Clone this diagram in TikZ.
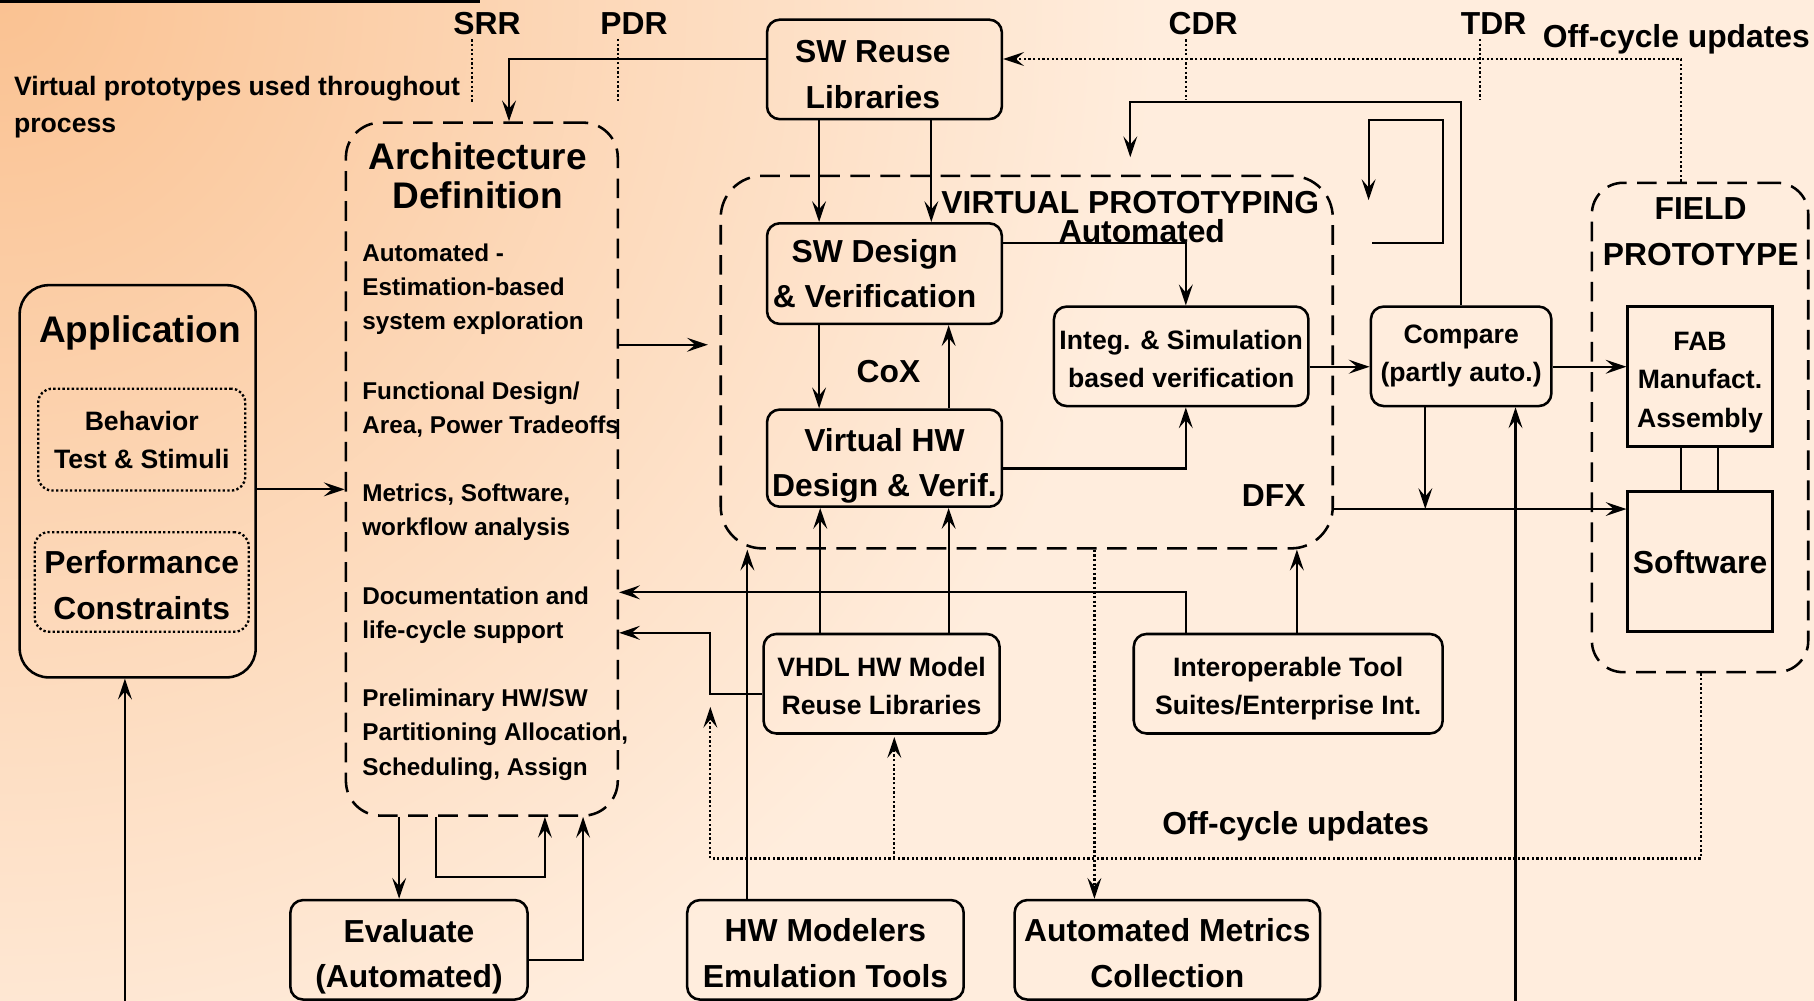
\documentclass[tikz,border=0pt]{standalone}
\usepackage{fontspec}
\setmainfont{Liberation Sans}
\usetikzlibrary{arrows.meta}
\definecolor{bgdeep}{RGB}{250,194,146}
\definecolor{bgpale}{RGB}{255,237,221}
\newcommand\szT{\fontsize{32}{34}\selectfont\bfseries}
\newcommand\szL{\fontsize{27.5}{39.5}\selectfont\bfseries}
\newcommand\szM{\fontsize{23}{33}\selectfont\bfseries}
\newcommand\szS{\fontsize{21}{29.6}\selectfont\bfseries}
% invisible strut that lowers the text block inside a box
\newcommand\boxtop[1]{\rule{0pt}{#1pt}}
\begin{document}
\begin{tikzpicture}[x=1pt,y=-1pt,
  box/.style={draw, line width=2.2pt, rounded corners=11pt, align=center,
    inner sep=0pt, font=\szL, minimum height=86},
  sqbox/.style={draw, line width=2.2pt, align=center, inner sep=0pt, font=\szL},
  dashbox/.style={draw, line width=2.2pt, dash pattern=on 17pt off 9pt,
    inner sep=0pt},
  dotbox/.style={draw, line width=2pt, dash pattern=on 2pt off 2pt,
    rounded corners=12pt, align=center, inner sep=0pt},
  lbl/.style={inner sep=0pt, font=\szL, align=center},
  bodytxt/.style={inner sep=0pt, font=\szS, align=left, anchor=west},
  conn/.style={line width=1.9pt},
  tip/.style={-{Stealth[length=18pt,width=12pt,inset=7pt]}},
  arr/.style={conn, tip},
  dotconn/.style={line width=1.9pt, dash pattern=on 2pt off 2pt},
  dotarr/.style={dotconn, tip}]

% background glow from the upper left corner
\useasboundingbox (0,0) rectangle (1568,865);
\begin{scope}
  \clip (0,0) rectangle (1568,865);
  \fill[bgpale] (0,0) rectangle (1568,865);
  \shade[inner color=bgdeep, outer color=bgpale] (0,0) circle (1000);
\end{scope}
\draw[line width=2.5pt] (0,1) -- (415,1);

% milestones
\node[lbl] (srr) at (421,20) {SRR};
\node[lbl] (pdr) at (548,20) {PDR};
\node[lbl] (cdr) at (1040,20) {CDR};
\node[lbl] (tdr) at (1291,20) {TDR};
\node[lbl] (offtop) at (1449,34) {Off-cycle updates};
\draw[dotconn, shorten <=4pt] (srr.south -| 408,0) -- (408,88);
\draw[dotconn, shorten <=4pt] (pdr.south -| 534,0) -- (534,88);
\draw[dotconn, shorten <=4pt] (cdr.south -| 1025,0) -- (1025,86);
\draw[dotconn, shorten <=4pt] (tdr.south -| 1279,0) -- (1279,86);

\node[bodytxt, font=\szM] (vpnote) at (12,77) {Virtual prototypes used throughout};
\node[bodytxt, font=\szM] (vpnote2) at (12,111) {process};

% application
\node[box, rounded corners=25pt, minimum width=204, minimum height=339] (app) at (119,416) {};
\node[lbl, font=\szT] (apptitle) at (121,288) {Application};
\node[dotbox, font=\szM, minimum width=179, minimum height=88] (beh) at (122.5,380) {Behavior\\Test \& Stimuli};
\node[dotbox, font=\szL, minimum width=185, minimum height=86] (perf) at (122.5,503) {\boxtop{25}Performance\\Constraints};

% architecture definition
\node[dashbox, rounded corners=30pt, minimum width=235, minimum height=599] (arch) at (416.5,405.5) {};
\node[lbl, font=\szT] (archtitle) at (413,152) {Architecture\\Definition};
\node[bodytxt] (archA) at (313,250) {Automated -\\Estimation-based\\system exploration};
\node[bodytxt] (archB) at (313,354) {Functional Design/\\Area, Power Tradeoffs};
\node[bodytxt] (archC) at (313,443) {Metrics, Software,\\workflow analysis};
\node[bodytxt] (archD) at (313,532) {Documentation and\\life-cycle support};
\node[bodytxt] (archE) at (313,635) {Preliminary HW/SW\\Partitioning Allocation,\\Scheduling, Assign};

% virtual prototyping
\node[dashbox, rounded corners=36pt, minimum width=529, minimum height=322] (vp) at (887.5,313) {};
\node[lbl] (vptitle) at (977,175) {VIRTUAL PROTOTYPING};
\node[lbl] (vpauto) at (987,200) {Automated};
\node[lbl] (cox) at (768,321) {CoX};
\node[lbl] (dfx) at (1101,428) {DFX};
\node[box, minimum width=203] (swr) at (764.5,60) {\boxtop{28}SW Reuse\hspace*{20pt}\\Libraries\hspace*{20pt}};
\node[box, minimum width=203, minimum height=87] (swd) at (764.5,236.5) {SW Design\hspace*{17pt}\\\& Verification\hspace*{17pt}};
\node[box, minimum width=203, minimum height=84] (vhw) at (764.5,396) {\boxtop{33}Virtual HW\\Design \& Verif.};
\node[box, font=\szM, minimum width=220] (integ) at (1021,308) {\boxtop{21}Integ. \& Simulation\\based verification};
\node[box, font=\szM, minimum width=156] (cmp) at (1263,308) {Compare\\(partly auto.)};

% field prototype
\node[dashbox, rounded corners=27pt, minimum width=187, minimum height=423] (field) at (1469.5,369.5) {};
\node[lbl] (fieldtitle) at (1470,200) {FIELD\\PROTOTYPE};
\node[sqbox, font=\szM, minimum width=125, minimum height=121] (fab) at (1469.5,325.5) {\boxtop{26}FAB\\Manufact.\\Assembly};
\node[sqbox, minimum width=125, minimum height=121] (sw) at (1469.5,485.5) {Software};

% tool and library boxes
\node[box, font=\szM, minimum width=204] (vhdl) at (762,591) {\boxtop{21}VHDL HW Model\\Reuse Libraries};
\node[box, font=\szM, minimum width=267] (iop) at (1113.5,591) {\boxtop{25}Interoperable Tool\\Suites/Enterprise Int.};
\node[box, minimum width=205] (eval) at (353.5,821) {\boxtop{32}Evaluate\\(Automated)};
\node[box, minimum width=239] (hwm) at (713.5,821) {\boxtop{26}HW Modelers\\Emulation Tools};
\node[box, minimum width=264] (amc) at (1009,821) {\boxtop{26}Automated Metrics\\Collection};
\node[lbl] (offmid) at (1120,714) {Off-cycle updates};

% free ends
\coordinate (lpA) at (1186,210);
\coordinate (lpB) at (1183,173);
\coordinate (dfxj) at (1232,440);
\coordinate (botR) at (1310,865);
\coordinate (botL) at (108,865);
\coordinate (dotEnd) at (614,611);
\coordinate (dotJ) at (773,742);

% connectors
\draw[arr] (app.east |- 0,423) -- (arch.west |- 0,423);
\draw[arr, shorten >=10pt] (arch.east |- 0,298) -- (vp.west |- 0,298);
\draw[arr] (swr.west |- 0,51) -| (arch.north -| 440,0);
\draw[arr] (swr.south -| 708,0) -- (swd.north -| 708,0);
\draw[arr] (swr.south -| 805,0) -- (swd.north -| 805,0);
\draw[arr] (swd.south -| 708,0) -- (vhw.north -| 708,0);
\draw[arr] (vhw.north -| 820,0) -- (swd.south -| 820,0);
\draw[arr] (swd.east |- 0,210) -| (integ.north -| 1025,0);
\draw[arr] (vhw.east |- 0,405) -| (integ.south -| 1025,0);
\draw[arr] (integ.east |- 0,317) -- (cmp.west |- 0,317);
\draw[arr] (cmp.east |- 0,317) -- (fab.west |- 0,317);
\draw[arr, shorten >=15pt] (cmp.north -| 1263,0) |- (977,88) -- (vp.north -| 977,0);
\draw[arr] (lpA) -- (1247,210) -- (1247,104) -- (1183,104) -- (lpB);
\draw[arr] (cmp.south -| 1232,0) -- (dfxj);
\draw[arr] (vp.east |- 0,440) -- (sw.west |- 0,440);
\draw[arr] (botR) -- (cmp.south -| 1310,0);
\draw[conn] (fab.south -| 1453,0) -- (sw.north -| 1453,0);
\draw[conn] (fab.south -| 1485,0) -- (sw.north -| 1485,0);
\draw[dotarr] (field.north -| 1453,0) |- (swr.east |- 0,51);
\draw[dotarr] (field.south -| 1470,0) |- (dotEnd |- 0,742) -- (dotEnd);
\draw[dotarr, shorten >=2pt] (dotJ) -- (vhdl.south -| 773,0);
\draw[dotarr] (vp.south -| 946,0) -- (amc.north -| 946,0);
\draw[arr] (vhdl.west |- 0,600) -| (614,547) -- (arch.east |- 0,547);
\draw[arr] (vhdl.north -| 709,0) -- (vhw.south -| 709,0);
\draw[arr] (vhdl.north -| 820,0) -- (vhw.south -| 820,0);
\draw[arr] (iop.north -| 1025,0) |- (arch.east |- 0,512);
\draw[arr] (iop.north -| 1121,0) -- (vp.south -| 1121,0);
\draw[arr] (hwm.north -| 646,0) -- (vp.south -| 646,0);
\draw[arr] (arch.south -| 345,0) -- (eval.north -| 345,0);
\draw[arr] (arch.south -| 377,0) |- (471,758) -- (arch.south -| 471,0);
\draw[arr] (eval.east |- 0,830) -| (arch.south -| 504,0);
\draw[arr] (botL) -- (app.south -| 108,0);
\end{tikzpicture}
\end{document}
